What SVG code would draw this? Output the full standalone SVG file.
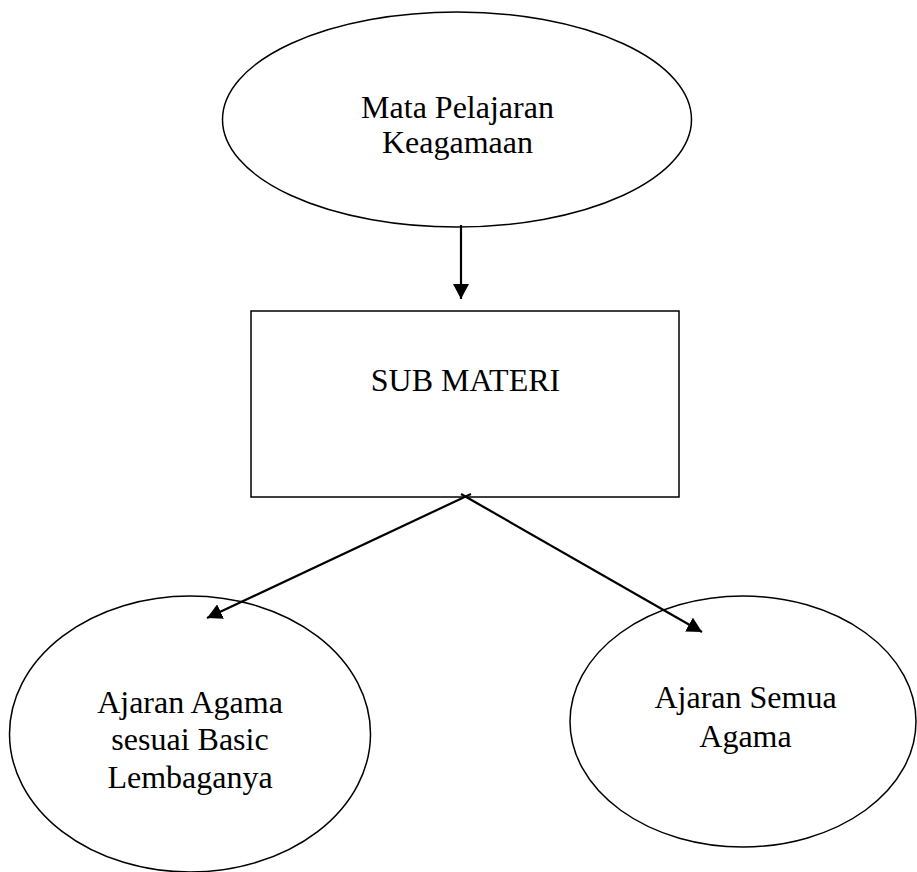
<svg xmlns="http://www.w3.org/2000/svg" width="917" height="872" viewBox="0 0 917 872">
<style>
.shape{fill:#fff;stroke:#000;stroke-width:1.5}
.lbl{font-family:"Liberation Serif","Times New Roman",serif;font-size:32px;fill:#000;text-anchor:middle}
.conn{stroke:#000;stroke-width:2.2;fill:none}
</style>
<defs>
<marker id="arr" markerWidth="16" markerHeight="16" refX="15" refY="8" orient="auto" markerUnits="userSpaceOnUse">
<path d="M0,0 L15,8 L0,16 Z" fill="#000"/>
</marker>
</defs>
<rect width="917" height="872" fill="#fff"/>
<g id="n1">
<ellipse class="shape" cx="457" cy="119.5" rx="234.5" ry="107.5"/>
<text class="lbl" x="457.5" y="118">Mata Pelajaran</text>
<text class="lbl" x="457.5" y="153">Keagamaan</text>
</g>
<g id="n2">
<rect class="shape" x="251" y="311" width="428" height="186"/>
<text class="lbl" x="465.5" y="391">SUB MATERI</text>
</g>
<g id="n3">
<ellipse class="shape" cx="190" cy="734" rx="180.5" ry="138"/>
<text class="lbl" x="190" y="713">Ajaran Agama</text>
<text class="lbl" x="190" y="750">sesuai Basic</text>
<text class="lbl" x="190" y="788">Lembaganya</text>
</g>
<g id="n4">
<ellipse class="shape" cx="743" cy="721.5" rx="173" ry="125.5"/>
<text class="lbl" x="745.5" y="708">Ajaran Semua</text>
<text class="lbl" x="745.5" y="746.5">Agama</text>
</g>
<g id="connectors">
<line class="conn" x1="461" y1="225" x2="461" y2="299" marker-end="url(#arr)"/>
<line class="conn" x1="471" y1="494" x2="207" y2="618" marker-end="url(#arr)"/>
<line class="conn" x1="461" y1="494" x2="702" y2="632" marker-end="url(#arr)"/>
</g>
</svg>
